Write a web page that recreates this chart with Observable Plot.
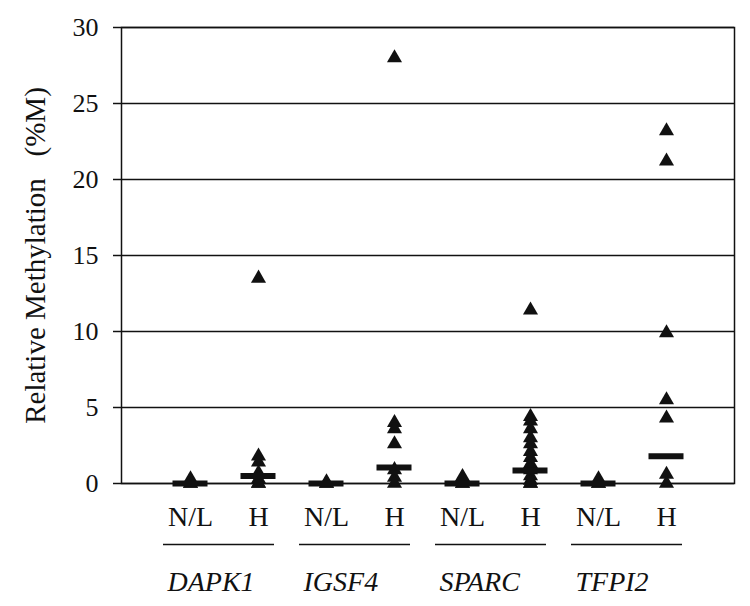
<!DOCTYPE html>
<html><head><meta charset="utf-8">
<script src="https://cdn.jsdelivr.net/npm/d3@7"></script>
<script src="https://cdn.jsdelivr.net/npm/@observablehq/plot@0.6"></script>
<style>body{margin:0;background:#fff}</style>
</head><body><div id="chart"></div>
<script>
const genes = ["DAPK1", "IGSF4", "SPARC", "TFPI2"];
const groups = ["N/L", "H"];
// Relative methylation (%M) per sample
const dapk1NL = [0, 0, 0.3];
const dapk1H = [13.5, 1.8, 1.4, 0.7, 0.3, 0, 0];
const igsf4NL = [0, 0, 0.1];
const igsf4H = [28, 4.0, 3.6, 2.6, 0.9, 0.4, 0];
const sparcNL = [0, 0, 0.45];
const sparcH = [11.4, 4.4, 4.1, 3.6, 3.0, 2.6, 2.1, 1.7, 1.3, 0.9, 0.5, 0.2, 0, 0];
const tfpi2NL = [0, 0, 0.3];
const tfpi2H = [23.2, 21.2, 9.9, 5.5, 4.3, 0.6, 0];
// medians (horizontal bars)
const medianNL = [0, 0, 0, 0];
const medianH = [0.5, 1.05, 0.85, 1.8];
const yTicks = [0, 5, 10, 15, 20, 25, 30];

const series = {
  "DAPK1|N/L": dapk1NL, "DAPK1|H": dapk1H,
  "IGSF4|N/L": igsf4NL, "IGSF4|H": igsf4H,
  "SPARC|N/L": sparcNL, "SPARC|H": sparcH,
  "TFPI2|N/L": tfpi2NL, "TFPI2|H": tfpi2H
};
const keys = genes.flatMap(g => groups.map(s => `${g}|${s}`));
const points = keys.flatMap(k => series[k].map(v => ({key: k, value: v})));
const medians = genes.flatMap((g, i) => [
  {key: `${g}|N/L`, value: medianNL[i]},
  {key: `${g}|H`, value: medianH[i]}
]);

const ink = "#111";
const font = "'Liberation Serif', 'Times New Roman', serif";

const chart = Plot.plot({
  width: 750,
  height: 606,
  marginTop: 27,
  marginBottom: 123,
  marginLeft: 121,
  marginRight: 16,
  style: {fontFamily: font, fontSize: "26px", color: ink, background: "#fff"},
  x: {type: "point", domain: keys, padding: 1},
  y: {domain: [0, 30]},
  marks: [
    Plot.ruleY(yTicks, {stroke: ink, strokeWidth: 1.5}),
    Plot.frame({stroke: ink, strokeWidth: 1.5}),
    Plot.axisY({ticks: yTicks, tickSize: 8, tickPadding: 15, stroke: ink, strokeWidth: 1.5,
      fontSize: 26, label: null}),
    Plot.axisY({ticks: [], tickSize: 0, fontSize: 29,
      label: "Relative Methylation\u00a0\u00a0\u00a0(%M)", labelAnchor: "center", labelOffset: 97, labelArrow: "none"}),
    Plot.axisX({tickSize: 0, tickPadding: 23, fontSize: 28, label: null,
      tickFormat: k => k.split("|")[1]}),
    Plot.dot(points, {x: "key", y: "value", symbol: "triangle", r: 5.6, fill: ink, stroke: null}),
    Plot.ruleY(medians, {x1: "key", x2: "key", y: "value", insetLeft: -17.5, insetRight: -17.5, stroke: ink, strokeWidth: 6}),
    Plot.ruleY(genes, {x1: g => `${g}|N/L`, x2: g => `${g}|H`, y: () => 0, dy: 61,
      insetLeft: -27, insetRight: -16, stroke: ink, strokeWidth: 1.5}),
    Plot.text(genes, {x: g => `${g}|N/L`, y: () => 0, dx: -23, dy: 99, text: d => d,
      textAnchor: "start", fontStyle: "italic", fontSize: 28, fill: ink})
  ]
});
document.getElementById("chart").appendChild(chart);
</script>
</body></html>
